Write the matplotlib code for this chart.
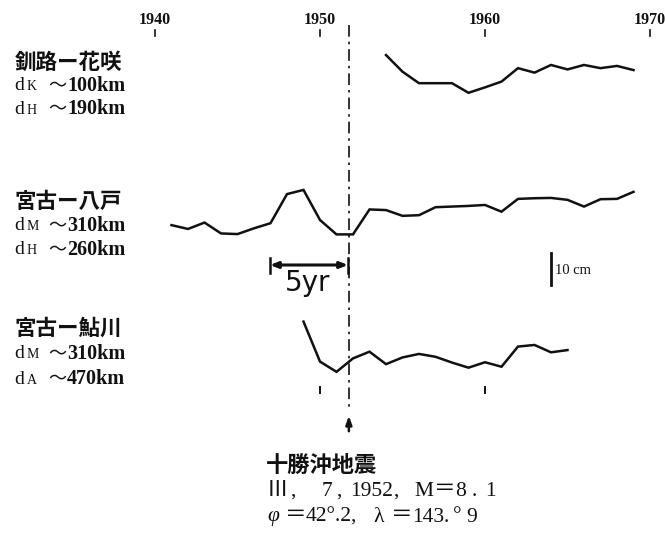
import matplotlib
matplotlib.use("Agg")
import matplotlib.pyplot as plt

# ---------------- data (relative level changes, cm) ----------------
years_kushiro = list(range(1954, 1970))
kushiro_hanasaki = [7.8, 2.6, -1.0, -1.0, -1.0, -4.0, -2.3, -0.5, 3.7, 2.3, 4.7, 3.3, 4.7, 3.7, 4.4, 3.1]

years_hachinohe = list(range(1941, 1970))
miyako_hachinohe = [-1.6, -2.8, -0.8, -4.2, -4.4, -2.6, -1.0, 8.1, 9.4, 0.0, -4.5, -4.5, 3.3, 3.1,
                    1.3, 1.5, 4.0, 4.2, 4.4, 4.7, 2.6, 6.6, 6.8, 6.9, 6.3, 4.2, 6.5, 6.6, 8.8]

years_ayukawa = list(range(1949, 1966))
miyako_ayukawa = [12.0, -0.5, -3.7, 0.5, 2.6, -1.3, 0.8, 1.9, 1.0, -0.8, -2.4, -0.7, -2.1, 4.2, 4.7, 2.4, 3.1]

tick_years = [1940, 1950, 1960, 1970]
eq_year = 1951.75

station_names = ["釧路ー花咲", "宮古ー八戸", "宮古ー鮎川"]
dist_labels = [[("K", "100km"), ("H", "190km")],
               [("M", "310km"), ("H", "260km")],
               [("M", "310km"), ("A", "470km")]]

# ---------------- layout ----------------
W, H = 665, 533
PX_PER_YEAR = 16.5
X0_PX = 155.0          # pixel of 1940
PX_PER_CM = 3.2

fig = plt.figure(figsize=(W / 100, H / 100), dpi=100)
ax = fig.add_axes([0, 0, 1, 1])
ax.set_xlim(1940 - X0_PX / PX_PER_YEAR, 1940 + (W - X0_PX) / PX_PER_YEAR)
ax.set_ylim(-H / PX_PER_CM, 0)
ax.axis("off")

INK = "#111111"


def P(xp, yp):
    """pixel position -> data coords (layout helper)"""
    return 1940 + (xp - X0_PX) / PX_PER_YEAR, -yp / PX_PER_CM


serif = ["Liberation Serif", "Noto Sans CJK JP"]
cjk = ["Noto Sans CJK JP", "Liberation Serif"]

# series
offsets_px = [80, 220, 360]
series = [(years_kushiro, kushiro_hanasaki), (years_hachinohe, miyako_hachinohe),
          (years_ayukawa, miyako_ayukawa)]
for (yr, vals), off in zip(series, offsets_px):
    base = -off / PX_PER_CM
    ax.plot(yr, [base + v for v in vals], color=INK, lw=1.8,
            solid_joinstyle="miter")

# top year labels and ticks
for ty in tick_years:
    ax.text(ty, P(0, 20)[1], str(ty), ha="center", va="center", fontsize=11.5,
            family=serif, fontweight="bold", color=INK)
    ax.plot([ty, ty], [P(0, 30)[1], P(0, 36)[1]], color=INK, lw=1.2)

# lower ticks at 1950, 1960
for ty in [1950, 1960]:
    ax.plot([ty, ty], [P(0, 387)[1], P(0, 393)[1]], color=INK, lw=1.4)

# earthquake dash-dot line
ax.plot([eq_year, eq_year], [P(0, 25)[1], P(0, 407)[1]], color=INK, lw=1.2,
        dashes=(7, 3, 1.5, 3))
ax.annotate("", xy=(eq_year, P(0, 413)[1]), xytext=(eq_year, P(0, 434)[1]),
            arrowprops=dict(arrowstyle="-|>,head_length=0.5,head_width=0.18",
                            color=INK, lw=1.8))

# station labels
label_rows = [(62, 85, 108), (201, 225, 249), (328, 353, 378)]
for name, dl, rows in zip(station_names, dist_labels, label_rows):
    ax.text(*P(15, rows[0]), name, ha="left", va="center", fontsize=15.5,
            family=cjk, fontweight="bold", color=INK)
    for (sub, rest), yp in zip(dl, rows[1:]):
        ax.text(*P(14, yp + 1), "d", ha="left", va="center", fontsize=14,
                family=serif, color=INK)
        ax.text(*P(27, yp + 2), sub, ha="left", va="center", fontsize=10,
                family=serif, color=INK)
        ax.text(*P(48, yp + 1), "～", ha="left", va="center", fontsize=13,
                family=cjk, color=INK)
        ax.text(*P(67, yp + 1), rest, ha="left", va="center", fontsize=14.5,
                family=serif, fontweight="bold", color=INK)

# 5 yr arrow
x1, yv = P(270, 265)
x2, _ = P(348, 265)
ax.annotate("", xy=(x2, yv), xytext=(x1, yv),
            arrowprops=dict(arrowstyle="<|-|>,head_length=0.45,head_width=0.18",
                            color=INK, lw=2.2, shrinkA=0, shrinkB=0))
for xe in (x1, x2):
    ax.plot([xe, xe], [P(0, 258)[1], P(0, 273)[1]], color=INK, lw=1.8)
ax.text(*P(308, 283), "5yr", ha="center", va="center", fontsize=20,
        family="DejaVu Sans", fontweight="medium", color=INK)

# 10 cm scale bar
sx, _ = P(551, 0)
ax.plot([sx, sx], [P(0, 253)[1], P(0, 253)[1] - 10], color=INK, lw=2.0)
ax.text(*P(555, 270), "10 cm", ha="left", va="center", fontsize=10.5,
        family=serif, color=INK)

# earthquake annotation
ax.text(*P(266, 465), "十勝沖地震", ha="left", va="center", fontsize=16,
        family=cjk, fontweight="bold", color=INK)
line2 = [(267, "Ⅲ"), (290, ","), (322, "7"), (336, ","), (350, "1952"), (393, ","),
         (414, "M"), (434, "＝"), (455, "8"), (472, "."), (485, "1")]
for xp, s in line2:
    ax.text(*P(xp, 491), s, ha="left", va="center", fontsize=15.5,
            family=serif, color=INK)
line3 = [(267, "φ", "italic"), (285, "＝", "normal"), (306, "42°.2,", "normal"),
         (373, "λ", "normal"), (391, "＝", "normal"), (412, "143", "normal"),
         (444, ".", "normal"), (453, "°", "normal"), (466, "9", "normal")]
for xp, s, st in line3:
    ax.text(*P(xp, 517), s, ha="left", va="center", fontsize=15.5, style=st,
            family=serif, color=INK)

fig.savefig("out.png", dpi=100, facecolor="white")
